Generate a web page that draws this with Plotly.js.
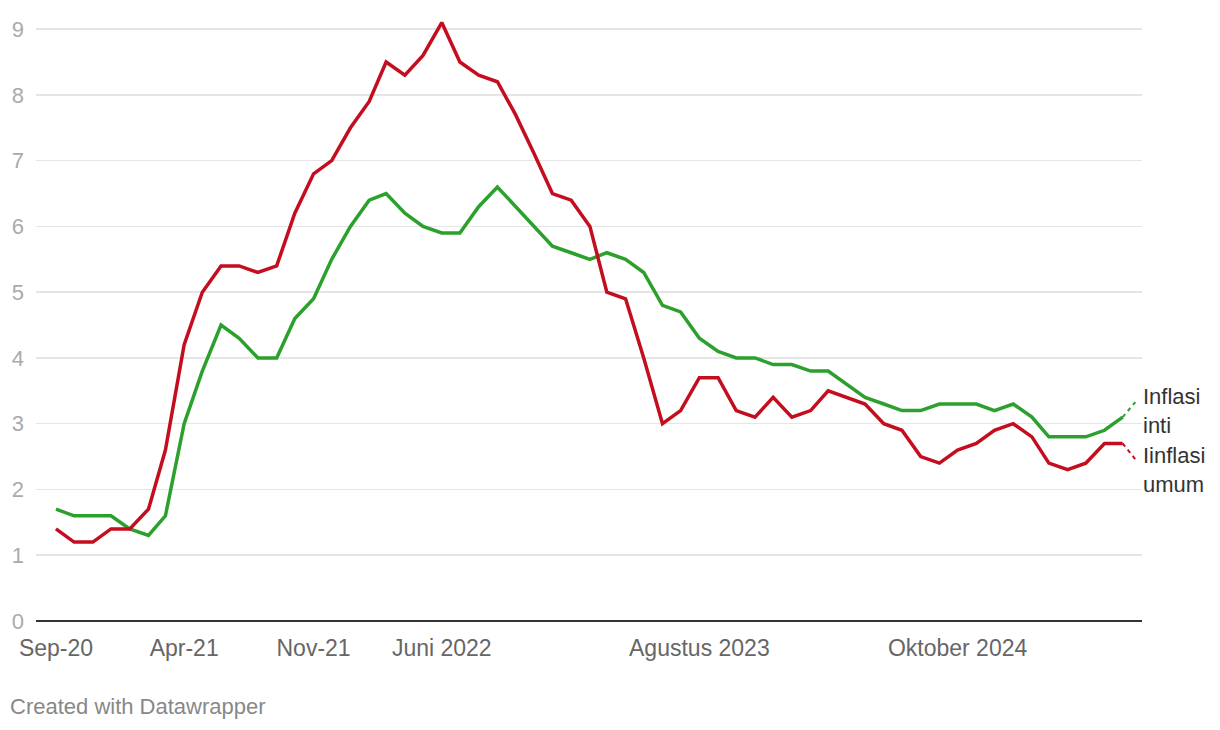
<!DOCTYPE html>
<html>
<head>
<meta charset="utf-8">
<script src="https://cdn.plot.ly/plotly-3.0.1.min.js"></script>
<style>
html,body{margin:0;padding:0;background:#fff;}
#chart{width:1220px;height:730px;}
</style>
</head>
<body>
<div id="chart"></div>
<script>
const months = [
 '2020-09-01','2020-10-01','2020-11-01','2020-12-01',
 '2021-01-01','2021-02-01','2021-03-01','2021-04-01','2021-05-01','2021-06-01','2021-07-01','2021-08-01','2021-09-01','2021-10-01','2021-11-01','2021-12-01',
 '2022-01-01','2022-02-01','2022-03-01','2022-04-01','2022-05-01','2022-06-01','2022-07-01','2022-08-01','2022-09-01','2022-10-01','2022-11-01','2022-12-01',
 '2023-01-01','2023-02-01','2023-03-01','2023-04-01','2023-05-01','2023-06-01','2023-07-01','2023-08-01','2023-09-01','2023-10-01','2023-11-01','2023-12-01',
 '2024-01-01','2024-02-01','2024-03-01','2024-04-01','2024-05-01','2024-06-01','2024-07-01','2024-08-01','2024-09-01','2024-10-01','2024-11-01','2024-12-01',
 '2025-01-01','2025-02-01','2025-03-01','2025-04-01','2025-05-01','2025-06-01','2025-07-01'
];
const inflasiUmum = [
 1.4,1.2,1.2,1.4,
 1.4,1.7,2.6,4.2,5.0,5.4,5.4,5.3,5.4,6.2,6.8,7.0,
 7.5,7.9,8.5,8.3,8.6,9.1,8.5,8.3,8.2,7.7,7.1,6.5,
 6.4,6.0,5.0,4.9,4.0,3.0,3.2,3.7,3.7,3.2,3.1,3.4,
 3.1,3.2,3.5,3.4,3.3,3.0,2.9,2.5,2.4,2.6,2.7,2.9,
 3.0,2.8,2.4,2.3,2.4,2.7,2.7
];
const inflasiInti = [
 1.7,1.6,1.6,1.6,
 1.4,1.3,1.6,3.0,3.8,4.5,4.3,4.0,4.0,4.6,4.9,5.5,
 6.0,6.4,6.5,6.2,6.0,5.9,5.9,6.3,6.6,6.3,6.0,5.7,
 5.6,5.5,5.6,5.5,5.3,4.8,4.7,4.3,4.1,4.0,4.0,3.9,
 3.9,3.8,3.8,3.6,3.4,3.3,3.2,3.2,3.3,3.3,3.3,3.2,
 3.3,3.1,2.8,2.8,2.8,2.9,3.1
];
// dashed projection stub
const projMonths = ['2025-07-01','2025-07-22'];
const projUmum = [2.7, 2.46];
const projInti = [3.1, 3.33];

const tickVals = ['2020-09-01','2021-04-01','2021-11-01','2022-06-01','2023-08-01','2024-10-01'];
const tickText = ['Sep-20','Apr-21','Nov-21','Juni 2022','Agustus 2023','Oktober 2024'];
const yTicks = [0,1,2,3,4,5,6,7,8,9];

const RED = '#c40d1e', GREEN = '#2ca02c';
const FONT = '"Liberation Sans", Arial, Helvetica, sans-serif';

const traces = [
 {x: months, y: inflasiInti, type:'scatter', mode:'lines', line:{color:GREEN, width:3.5}, hoverinfo:'skip'},
 {x: months, y: inflasiUmum, type:'scatter', mode:'lines', line:{color:RED, width:3.5}, hoverinfo:'skip'},
 {x: projMonths, y: projInti, type:'scatter', mode:'lines', line:{color:GREEN, width:2, dash:'4px,4px'}, hoverinfo:'skip'},
 {x: projMonths, y: projUmum, type:'scatter', mode:'lines', line:{color:RED, width:2, dash:'4px,4px'}, hoverinfo:'skip'}
];

const layout = {
 width:1220, height:730,
 margin:{l:36, r:78, t:16, b:109},
 paper_bgcolor:'#fff', plot_bgcolor:'#fff',
 showlegend:false,
 font:{family:FONT},
 xaxis:{
  type:'date', range:['2020-07-30','2025-08-02'],
  tickmode:'array', tickvals:tickVals, ticktext:tickText,
  showgrid:false, zeroline:false, showline:false, ticks:'',
  tickfont:{size:23, color:'#666', family:FONT},
  ticklabelstandoff:11
 },
 yaxis:{
  range:[0,9.2], tickmode:'array', tickvals:yTicks,
  showgrid:true, gridcolor:'#e5e5e5', gridwidth:1.5,
  zeroline:true, zerolinecolor:'#333', zerolinewidth:2,
  showline:false, ticks:'',
  tickfont:{size:22, color:'#aaa', family:FONT},
  ticklabelstandoff:11
 },
 annotations:[
  {xref:'paper', yref:'y', x:1.0, y:3.19, xanchor:'left', yanchor:'middle', xshift:-1, align:'left',
   text:'Inflasi<br>inti', showarrow:false, font:{size:22, color:'#333', family:FONT}},
  {xref:'paper', yref:'y', x:1.0, y:2.29, xanchor:'left', yanchor:'middle', xshift:-1, align:'left',
   text:'Iinflasi<br>umum', showarrow:false, font:{size:22, color:'#333', family:FONT}},
  {xref:'paper', yref:'paper', x:(8-36)/1106, y:0, yshift:-85, xanchor:'left', yanchor:'middle',
   text:'Created with Datawrapper', showarrow:false, font:{size:22, color:'#888', family:FONT}}
 ]
};

Plotly.newPlot('chart', traces, layout, {displayModeBar:false, staticPlot:true});
</script>
</body>
</html>
